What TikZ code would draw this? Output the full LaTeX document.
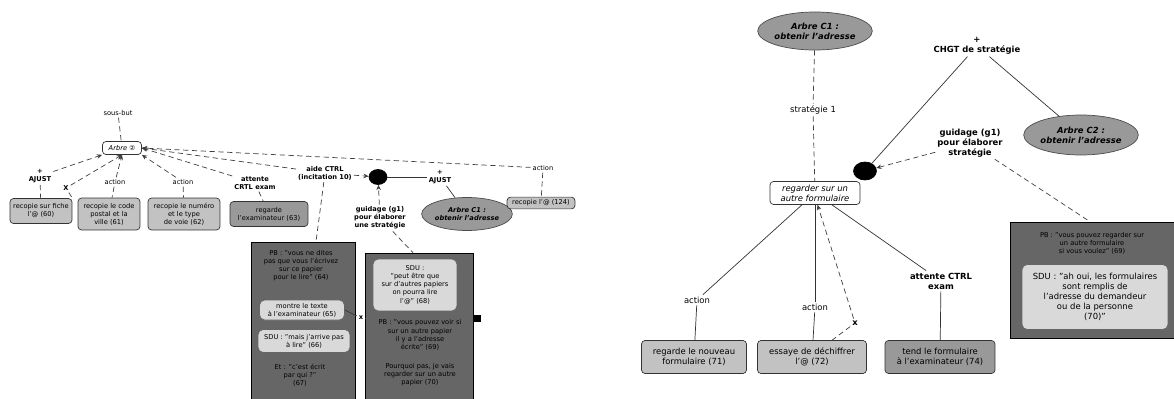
\documentclass[tikz,border=0pt]{standalone}
\usepackage{fontspec}
\setmainfont{DejaVu Sans}
\usetikzlibrary{arrows.meta, shapes.geometric}
\definecolor{fondclair}{gray}{0.76}
\definecolor{fondmoyen}{gray}{0.6}
\definecolor{fondsombre}{gray}{0.4}
\definecolor{fondcase}{gray}{0.85}
\newcommand{\fpetit}{\fontsize{3.8}{4.6}\selectfont}
\newcommand{\fmoyen}{\fontsize{4.8}{5.7}\selectfont}

\begin{document}
\begin{tikzpicture}[
  x=0.02cm, y=-0.02cm,
  act/.style={rectangle, rounded corners=2pt, draw=black!80, fill=fondclair, thin, align=center, inner sep=1.5pt, font=\fpetit},
  arbre/.style={ellipse, draw=black!70, fill=fondmoyen, thin, align=center, inner sep=0pt, font=\fpetit\bfseries\itshape},
  etiq/.style={align=center, inner sep=1pt, font=\fpetit},
  lab/.style={align=center, inner sep=1pt, font=\fpetit\bfseries},
  jdot/.style={ellipse, fill=black, draw=black, inner sep=0pt},
  panneau/.style={rectangle, draw=black, fill=fondsombre, inner sep=0pt},
  case/.style={rectangle, rounded corners=3pt, draw=black!60, fill=fondcase, align=center, inner sep=1.5pt, font=\fpetit},
  note/.style={align=center, inner sep=1pt, font=\fpetit, text=black},
  lien/.style={densely dashed, thin, black!75},
  fleche/.style={densely dashed, thin, black!75, -{Stealth[length=3pt, width=2.6pt]}},
  trait/.style={thin, black!80}
]
  \useasboundingbox (0,0) rectangle (1174,399);

  % arbre de gauche
  \node[etiq] (sousbut) at (118,113) {sous-but};
  \node[act, fill=white, font=\fpetit\itshape, minimum width=0.78cm, minimum height=0.26cm] (arbreA) at (122,148) {Arbre ②};
  \node[lab] (ajustA) at (40,176) {+\\AJUST};
  \node[lab] (xA) at (66,188) {X};
  \node[etiq] (actA) at (115,182) {action};
  \node[etiq] (actB) at (183,182) {action};
  \node[lab] (attA) at (255,183) {attente\\CRTL exam};
  \node[lab] (aideA) at (325,173) {aide CTRL\\(incitation 10)};
  \node[jdot, minimum width=0.36cm, minimum height=0.3cm] (dotA) at (378,177) {};
  \node[lab] (ajustB) at (440,177) {+\\AJUST};
  \node[arbre, minimum width=1.6cm, minimum height=0.66cm] (arbreB) at (467,214) {Arbre C1 :\\obtenir l'adresse};
  \node[lab] (guidA) at (380,218) {guidage (g1)\\pour élaborer\\une stratégie};
  \node[etiq] (actC) at (543,168) {action};
  \node[act, minimum width=1.36cm] (n124) at (541,203) {recopie l'@ (124)};

  \node[act, minimum width=1.24cm, minimum height=0.5cm] (n60) at (41,211) {recopie sur fiche\\l'@ (60)};
  \node[act, minimum width=1.24cm, minimum height=0.64cm] (n61) at (109,214) {recopie le code\\postal et la\\ville (61)};
  \node[act, minimum width=1.44cm, minimum height=0.64cm] (n62) at (184,214) {recopie le numéro\\et le type\\de voie (62)};
  \node[act, fill=fondmoyen, minimum width=1.56cm, minimum height=0.5cm] (n63) at (269,214) {regarde\\l'examinateur (63)};

  \draw[lien] (sousbut) -- (arbreA);
  \draw[fleche] (ajustA) -- (arbreA.south west);
  \draw[fleche] (xA) -- (arbreA.south);
  \draw[fleche] (actA) -- (arbreA.south);
  \draw[fleche] (actB) -- (arbreA.south east);
  \draw[fleche] (attA) -- (arbreA.east);
  \draw[fleche] (aideA) -- (arbreA.east);
  \draw[fleche] (actC) -- (arbreA.east);
  \draw[lien] (ajustA) -- (n60);
  \draw[lien] (xA) -- (n60.north east);
  \draw[lien] (actA) -- (n61);
  \draw[lien] (actB) -- (n62);
  \draw[lien] (attA) -- (n63);
  \draw[lien] (actC) -- (n124);
  \draw[fleche] (aideA) -- (dotA);
  \draw[fleche] (guidA) -- (dotA);
  \draw[trait] (dotA) -- (ajustB);
  \draw[trait] (ajustB) -- (arbreB);

  % copies d'ecran de gauche
  \node[panneau, minimum width=2.08cm, minimum height=3.14cm] (ecranA) at (303,320.5) {};
  \node[panneau, minimum width=2.16cm, minimum height=2.92cm] (ecranB) at (419,326) {};
  \node[note] (n64) at (301,266) {PB : "vous ne dites\\pas que vous l'écrivez\\sur ce papier\\pour le lire" (64)};
  \node[case, minimum width=1.7cm, minimum height=0.4cm] (n65) at (302,310) {montre le texte\\à l'examinateur (65)};
  \node[case, minimum width=1.84cm, minimum height=0.46cm] (n66) at (304,341) {SDU : "mais j'arrive pas\\à lire" (66)};
  \node[note] (n67) at (300,375) {Et : "c'est écrit\\par qui ?"\\(67)};
  \node[case, minimum width=1.68cm, minimum height=1.04cm] (n68) at (415,285) {SDU :\\"peut être que\\sur d'autres papiers\\on pourra lire\\l'@" (68)};
  \node[note] (n69) at (420,335) {PB : "vous pouvez voir si\\sur un autre papier\\il y a l'adresse\\écrite" (69)};
  \node[note] (n70) at (420,375) {Pourquoi pas, je vais\\regarder sur un autre\\papier (70)};
  \node[lab] (xM) at (361,318) {x};
  \node[rectangle, fill=black, minimum size=0.14cm, inner sep=0pt] (carre) at (477,318) {};
  \draw[trait] (n65.east) -- (xM);
  \draw[trait] (xM) -- (ecranB.west |- xM);
  \draw[lien] (aideA) -- (ecranA.north -| 316,0);
  \draw[lien] (guidA) -- (ecranB.north -| 413,0);

  % arbre de droite
  \node[arbre, font=\fmoyen\bfseries\itshape, minimum width=1.92cm, minimum height=0.76cm] (arbreC) at (815,31) {Arbre C1 :\\obtenir l'adresse};
  \node[etiq, font=\fmoyen] (strat) at (813,110) {stratégie 1};
  \node[act, fill=white, font=\fmoyen\itshape, minimum width=1.8cm, minimum height=0.46cm] (regard) at (815,193) {regarder sur un\\autre formulaire};
  \node[jdot, minimum width=0.46cm, minimum height=0.36cm] (dotB) at (865,171) {};
  \node[lab, font=\fmoyen\bfseries] (chgt) at (977,46) {+\\CHGT de stratégie};
  \node[arbre, font=\fmoyen\bfseries\itshape, minimum width=1.94cm, minimum height=0.8cm] (arbreD) at (1081,135) {Arbre C2 :\\obtenir l'adresse};
  \node[lab, font=\fmoyen\bfseries] (guidB) at (970,143) {guidage (g1)\\pour élaborer\\stratégie};
  \node[etiq, font=\fmoyen] (actD) at (697,300) {action};
  \node[etiq, font=\fmoyen] (actE) at (815,307) {action};
  \node[lab, font=\fmoyen\bfseries] (xB) at (855,323) {x};
  \node[lab, font=\fmoyen\bfseries] (attB) at (941,281) {attente CTRL\\exam};
  \node[act, font=\fmoyen, minimum width=2.1cm, minimum height=0.66cm] (n71) at (694,357) {regarde le nouveau\\formulaire (71)};
  \node[act, font=\fmoyen, minimum width=2.18cm, minimum height=0.66cm] (n72) at (812,357) {essaye de déchiffrer\\l'@ (72)};
  \node[act, fill=fondmoyen, font=\fmoyen, minimum width=2.2cm, minimum height=0.66cm] (n74) at (940,357) {tend le formulaire\\à l'examinateur (74)};

  \draw[lien] (arbreC) -- (strat);
  \draw[lien] (strat) -- (regard);
  \draw[trait] (regard) -- (actD);
  \draw[trait] (actD) -- (n71);
  \draw[trait] (regard) -- (actE);
  \draw[trait] (actE) -- (n72);
  \draw[trait] (regard) -- (attB);
  \draw[trait] (attB) -- (n74);
  \draw[fleche] (xB) -- (regard.-78);
  \draw[lien] (xB) -- (n72.40);
  \draw[trait] (dotB) -- (chgt);
  \draw[trait] (chgt) -- (arbreD);
  \draw[fleche] (guidB) -- (dotB);

  % copie d'ecran de droite
  \node[panneau, minimum width=3.28cm, minimum height=2.32cm] (ecranC) at (1092,280) {};
  \node[note, text=black] (n69b) at (1092,243) {PB : "vous pouvez regarder sur\\un autre formulaire\\si vous voulez" (69)};
  \node[case, font=\fmoyen, minimum width=2.92cm, minimum height=1.3cm] (n70b) at (1095,297) {SDU : "ah oui, les formulaires\\sont remplis de\\l'adresse du demandeur\\ou de la personne\\(70)"};
  \draw[lien] (guidB) -- (ecranC.north -| 1090,0);
\end{tikzpicture}
\end{document}
